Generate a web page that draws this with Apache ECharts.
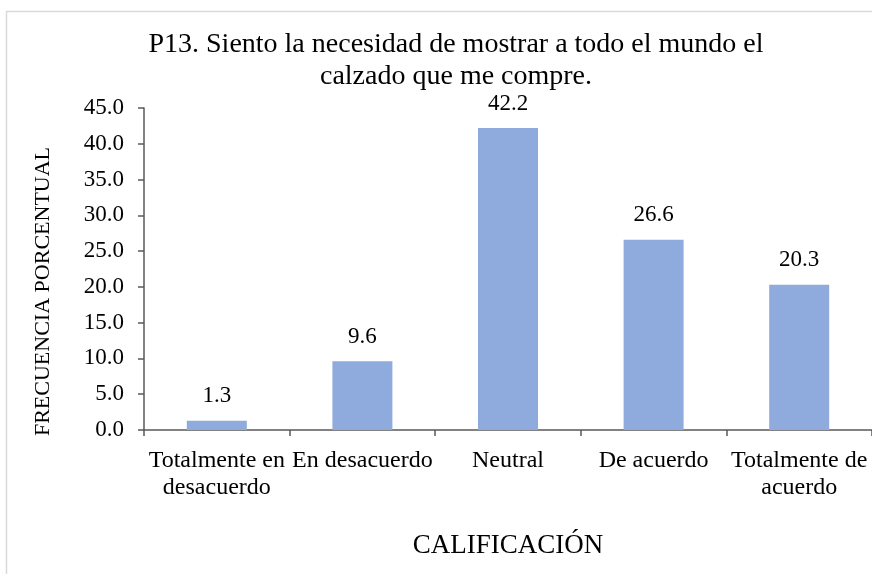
<!DOCTYPE html>
<html>
<head>
<meta charset="utf-8">
<script src="https://cdn.jsdelivr.net/npm/echarts@6/dist/echarts.min.js"></script>
<style>
  html, body { margin: 0; padding: 0; background: #fff; }
  #main { width: 872px; height: 574px; }
</style>
</head>
<body>
<div id="main"></div>
<script>
// datos del grafico
var categorias = ['Totalmente en\ndesacuerdo', 'En desacuerdo', 'Neutral', 'De acuerdo', 'Totalmente de\nacuerdo'];
var frecuencia = [1.3, 9.6, 42.2, 26.6, 20.3];

var fuente = '"Liberation Serif", "Times New Roman", serif';

var mychart = echarts.init(document.getElementById('main'));
mychart.setOption({
  animation: false,
  textStyle: { fontFamily: fuente },
  graphic: [{
    type: 'rect',
    shape: { x: 6.5, y: 11.5, width: 900, height: 600 },
    style: { fill: 'none', stroke: '#d9d9d9', lineWidth: 1.5 },
    silent: true
  }],
  title: {
    text: 'P13. Siento la necesidad de mostrar a todo el mundo el\ncalzado que me compre.',
    left: 451,
    top: 24,
    textAlign: 'center',
    textStyle: { fontFamily: fuente, fontSize: 28, fontWeight: 'normal', color: '#000', lineHeight: 32 }
  },
  grid: { left: 144, right: -7, top: 108, bottom: 144, containLabel: false },
  xAxis: {
    type: 'category',
    data: categorias,
    name: 'CALIFICACIÓN',
    nameLocation: 'middle',
    nameGap: 102,
    nameTextStyle: { fontFamily: fuente, fontSize: 27, color: '#000' },
    axisLine: { lineStyle: { color: '#595959', width: 1.5 } },
    axisTick: { show: true, length: 6, lineStyle: { color: '#595959', width: 1.5 } },
    axisLabel: { fontFamily: fuente, fontSize: 24, color: '#000', margin: 17, lineHeight: 27, interval: 0 }
  },
  yAxis: {
    type: 'value',
    min: 0,
    max: 45,
    interval: 5,
    name: 'FRECUENCIA PORCENTUAL',
    nameLocation: 'middle',
    nameGap: 90,
    nameRotate: 90,
    nameTextStyle: { fontFamily: fuente, fontSize: 22, color: '#000', padding: [0, 0, 0, -45] },
    axisLine: { show: true, lineStyle: { color: '#595959', width: 1.5 } },
    axisTick: { show: true, length: 6, lineStyle: { color: '#595959', width: 1.5 } },
    splitLine: { show: false },
    axisLabel: {
      fontFamily: fuente, fontSize: 23, color: '#000', margin: 20,
      formatter: function (v) { return v.toFixed(1); }
    }
  },
  series: [{
    type: 'bar',
    data: frecuencia,
    barWidth: 60,
    itemStyle: { color: '#8faadc' },
    label: {
      show: true,
      position: 'top',
      distance: 13,
      fontFamily: fuente,
      fontSize: 23,
      color: '#000',
      formatter: function (p) { return p.value.toFixed(1); }
    }
  }]
});
</script>
</body>
</html>
